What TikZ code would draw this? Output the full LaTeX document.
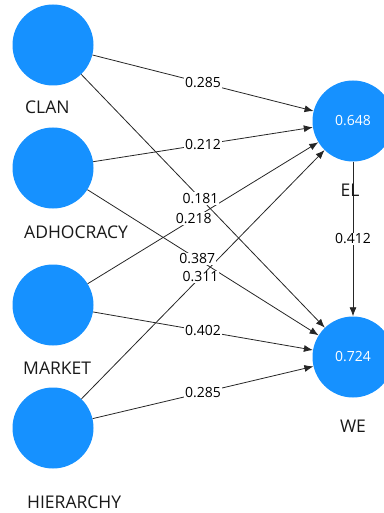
\documentclass[tikz,border=0pt]{standalone}
\usepackage{fontspec}
\setmainfont{Open Sans}
\usetikzlibrary{arrows.meta}
\usetikzlibrary{positioning}
\definecolor{plsblue}{RGB}{22,145,255}
\tikzset{
    construct/.style={
           circle,
           fill=plsblue,
           minimum size=81pt,
           inner sep=0pt,
           text=white,
           font=\fontsize{14}{14}\selectfont,
           },
    cname/.style={
           inner sep=0pt,
           text=black!90,
           font=\fontsize{17.5}{17.5}\selectfont,},
    pil/.style={
           ->,
           line width=0.8pt,
           draw=black!85,},
    coef/.style={
           fill=white,
           inner sep=1pt,
           font=\fontsize{14}{14}\selectfont,}
}

\begin{document}
\begin{tikzpicture}[>={Latex[length=9pt,width=7pt]}]
\useasboundingbox (0,0) rectangle (383pt,-513pt);
% CULTURE CONSTRUCTS (left column)
\node[construct] (CLAN) at (53pt,-45pt) {};
\node[construct, below of = CLAN, node distance = 123pt] (ADHOCRACY) {};
\node[construct, below of = ADHOCRACY, node distance = 137pt] (MARKET) {};
\node[construct, below of = MARKET, node distance = 123pt] (HIERARCHY) {};
% OUTCOME CONSTRUCTS (right column)
\node[construct, right of = CLAN, node distance = 300pt, yshift = -76pt] (EL) {0.648};
\node[construct, below of = EL, node distance = 236pt] (WE) {0.724};
% Draw paths
\path (CLAN) edge[pil] (EL);
\path (ADHOCRACY) edge[pil] (EL);
\path (MARKET) edge[pil] (EL);
\path (HIERARCHY) edge[pil] (EL);
\path (CLAN) edge[pil] (WE);
\path (ADHOCRACY) edge[pil] (WE);
\path (MARKET) edge[pil] (WE);
\path (HIERARCHY) edge[pil] (WE);
\path (EL) edge[pil] (WE);
% Path coefficients
\path (CLAN) -- node[coef, pos = 0.5] {0.285} (EL);
\path (ADHOCRACY) -- node[coef, pos = 0.5] {0.212} (EL);
\path (CLAN) -- node[coef, pos = 0.49] {0.181} (WE);
\path (MARKET) -- node[coef, pos = 0.46] {0.218} (EL);
\path (ADHOCRACY) -- node[coef, pos = 0.475] {0.387} (WE);
\path (HIERARCHY) -- node[coef, pos = 0.49] {0.311} (EL);
\path (MARKET) -- node[coef, pos = 0.5] {0.402} (WE);
\path (HIERARCHY) -- node[coef, pos = 0.5] {0.285} (WE);
\path (EL) -- node[coef, pos = 0.5] {0.412} (WE);
% Construct names
\node[cname, below of = CLAN, node distance = 62pt, xshift = -28pt, anchor = west] (CLANtxt) {CLAN};
\node[cname, below of = ADHOCRACY, node distance = 64pt, xshift = -29pt, anchor = west] (ADHOCRACYtxt) {ADHOCRACY};
\node[cname, below of = MARKET, node distance = 63pt, xshift = -30pt, anchor = west] (MARKETtxt) {MARKET};
\node[cname, below of = HIERARCHY, node distance = 74pt, xshift = -26pt, anchor = west] (HIERARCHYtxt) {HIERARCHY};
\node[cname, below of = EL, node distance = 69pt, xshift = -3pt] (ELtxt) {EL};
\node[cname, below of = WE, node distance = 69pt] (WEtxt) {WE};
\end{tikzpicture}
\end{document}
